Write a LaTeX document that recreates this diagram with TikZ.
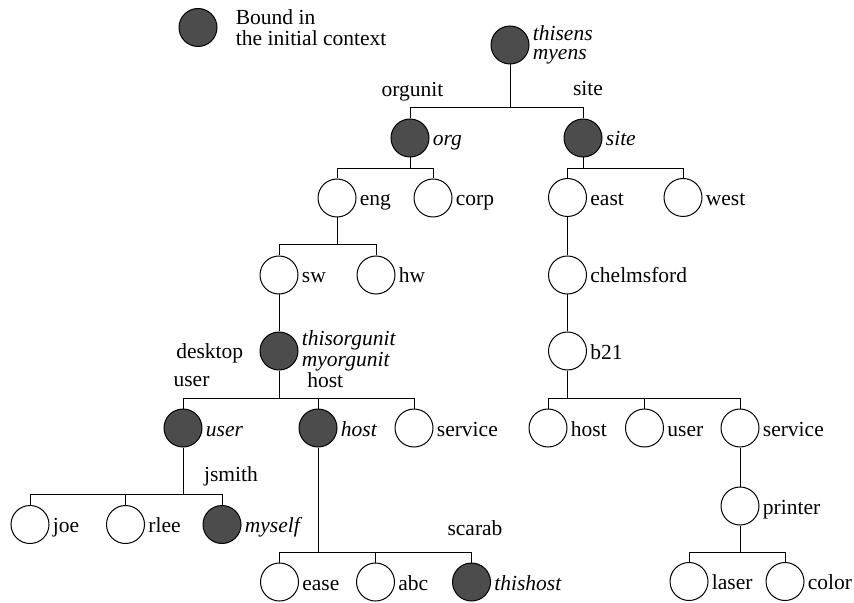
\documentclass[tikz,border=0pt]{standalone}
\usepackage{fontspec}
\setmainfont{Liberation Serif}
\newfontfamily\timesfam{Liberation Serif}
\usepackage{tikz}
\usetikzlibrary{positioning}

\newcommand{\lbl}{\timesfam\fontsize{10.75}{12}\selectfont}

\tikzset{
  leaf/.style={circle,draw,line width=0.5pt,fill=white,minimum size=19pt,inner sep=0pt},
  bound/.style={leaf,fill=black!70},
  txt/.style={inner sep=1.5pt,text height=8pt,text depth=0pt,font=\lbl},
  itxt/.style={txt,font=\lbl\itshape},
  twolines/.style={inner sep=1.5pt,align=left,font=\lbl\itshape},
  conn/.style={line width=0.5pt}
}

\begin{document}
\begin{tikzpicture}[x=0.5pt,y=-0.5pt]
\useasboundingbox (0,0) rectangle (854,603);

% legend
\node[bound] (legend) at (198,27.5) {};
\node[inner sep=0pt,align=left,font=\timesfam\fontsize{10.75}{10.8}\selectfont,right=9pt of legend] (tlegend) {Bound in\\the initial context};

% upper part
\node[bound] (root) at (510,45) {};
\node[twolines,font=\timesfam\fontsize{10.75}{9.3}\selectfont\itshape,right=0pt of root] (troot) {thisens\\myens};
\node[bound] (org) at (410,138) {};   \node[itxt,right=0pt of org] (torg) {org};
\node[bound] (site) at (583,138) {};  \node[itxt,right=0pt of site] (tsite) {site};
\node[leaf] (eng) at (337,198) {};    \node[txt,right=0pt of eng] (teng) {eng};
\node[leaf] (corp) at (433,198) {};   \node[txt,right=0pt of corp] (tcorp) {corp};
\node[leaf] (east) at (567.5,197.5) {}; \node[txt,right=0pt of east] (teast) {east};
\node[leaf] (west) at (683,197.5) {}; \node[txt,right=0pt of west] (twest) {west};
\node[leaf] (sw) at (279,275) {};     \node[txt,right=0pt of sw] (tsw) {sw};
\node[leaf] (hw) at (376,275) {};     \node[txt,right=0pt of hw] (thw) {hw};
\node[leaf] (chelm) at (567.5,275) {}; \node[txt,right=0pt of chelm] (tchelm) {chelmsford};
\node[bound] (tou) at (279,351) {};
\node[twolines,font=\timesfam\fontsize{10.75}{8}\selectfont\itshape,right=0pt of tou] (ttou) {thisorgunit\\myorgunit};
\node[leaf] (b21) at (567.5,351) {};  \node[txt,right=0pt of b21] (tb21) {b21};

% lower part
\node[bound] (user) at (183,428) {};  \node[itxt,right=0pt of user] (tuser) {user};
\node[bound] (host) at (318,428) {};  \node[itxt,right=0pt of host] (thost) {host};
\node[leaf] (service) at (414,428) {}; \node[txt,right=0pt of service] (tservice) {service};
\node[leaf] (rhost) at (548,428) {};  \node[txt,right=0pt of rhost] (trhost) {host};
\node[leaf] (ruser) at (644.5,428) {}; \node[txt,right=0pt of ruser] (truser) {user};
\node[leaf] (rservice) at (740,428) {}; \node[txt,right=0pt of rservice] (trservice) {service};
\node[leaf] (printer) at (740,506) {}; \node[txt,right=0pt of printer] (tprinter) {printer};
\node[leaf] (laser) at (689,581.5) {}; \node[txt,right=0pt of laser] (tlaser) {laser};
\node[leaf] (color) at (785,581.5) {}; \node[txt,right=0pt of color] (tcolor) {color};
\node[leaf] (joe) at (30,524.5) {};   \node[txt,right=0pt of joe] (tjoe) {joe};
\node[leaf] (rlee) at (125.5,524.5) {}; \node[txt,right=0pt of rlee] (trlee) {rlee};
\node[bound] (myself) at (222,524.5) {}; \node[itxt,right=0pt of myself] (tmyself) {myself};
\node[leaf] (ease) at (279.5,582) {}; \node[txt,right=0pt of ease] (tease) {ease};
\node[leaf] (abc) at (375.5,582) {};  \node[txt,right=0pt of abc] (tabc) {abc};
\node[bound] (thishost) at (471.5,582) {}; \node[itxt,right=0pt of thishost] (tthishost) {thishost};

% names on the branches
\node[txt] (lorgunit) at (412.5,88.7) {orgunit};
\node[txt] (lsite) at (588,87.7) {site};
\node[txt] (ldesktop) at (209.7,350) {desktop};
\node[txt] (luser) at (191.5,378.7) {user};
\node[txt] (lhost) at (325.2,379) {host};
\node[txt] (ljsmith) at (231,473.7) {jsmith};
\node[txt] (lscarab) at (475,527) {scarab};

% connectors
\foreach \p/\yb/\kids in {root/108/{org,site}, org/168.3/{eng,corp}, site/168.3/{east,west},
    eng/245/{sw,hw}, sw/313/{tou}, east/236/{chelm}, chelm/313/{b21},
    tou/398.3/{user,host,service}, b21/398.8/{rhost,ruser,rservice},
    user/494/{joe,rlee,myself}, host/552.3/{ease,abc,thishost},
    rservice/467/{printer}, printer/552.3/{laser,color}}
{
  \draw[conn] (\p.south) -- (\p.south |- 0,\yb);
  \foreach \k in \kids
    \draw[conn] (\p.south |- 0,\yb) -| (\k.north);
}
\end{tikzpicture}
\end{document}
